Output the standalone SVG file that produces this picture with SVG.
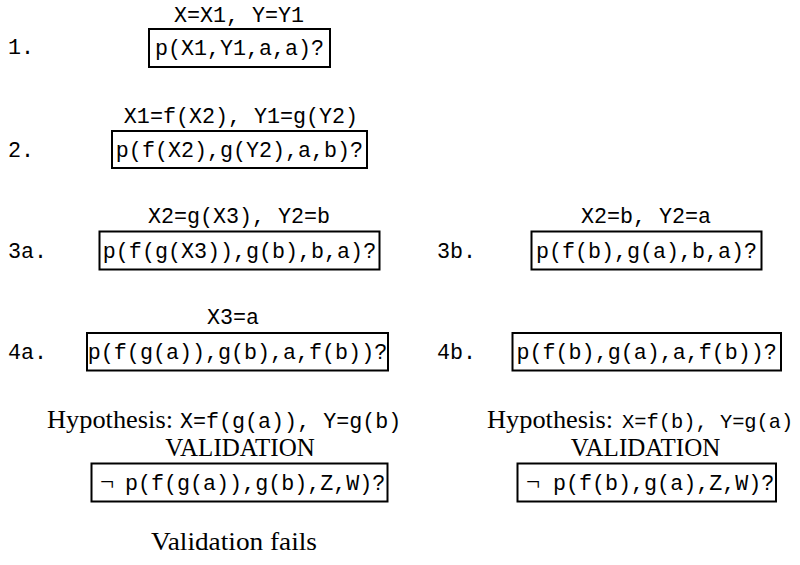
<svg xmlns="http://www.w3.org/2000/svg" width="800" height="565" viewBox="0 0 800 565">
<style>
  .box { fill: none; stroke: #000; stroke-width: 2; }
  .tt { font-family: "Liberation Mono", "DejaVu Sans Mono", monospace; font-size: 21.7px; fill: #000; }
  .rm { font-family: "Liberation Serif", "DejaVu Serif", serif; font-size: 25px; fill: #000; }
  .c { text-anchor: middle; }
</style>
<rect width="800" height="565" fill="#fff"/>

<g id="node-1">
  <text class="tt" x="8" y="54">1.</text>
  <text class="tt c" x="239" y="21.5">X=X1, Y=Y1</text>
  <rect class="box" x="149" y="29" width="181" height="38"/>
  <text class="tt c" x="239.5" y="54.5">p(X1,Y1,a,a)?</text>
</g>

<g id="node-2">
  <text class="tt" x="8" y="157">2.</text>
  <text class="tt c" x="241" y="123">X1=f(X2), Y1=g(Y2)</text>
  <rect class="box" x="112" y="131" width="255" height="37"/>
  <text class="tt c" x="239.5" y="157">p(f(X2),g(Y2),a,b)?</text>
</g>

<g id="node-3a">
  <text class="tt" x="8" y="258">3a.</text>
  <text class="tt c" x="239" y="223">X2=g(X3), Y2=b</text>
  <rect class="box" x="99.5" y="231.5" width="280" height="38"/>
  <text class="tt c" x="239.5" y="258">p(f(g(X3)),g(b),b,a)?</text>
</g>

<g id="node-3b">
  <text class="tt" x="437" y="258">3b.</text>
  <text class="tt c" x="646" y="223">X2=b, Y2=a</text>
  <rect class="box" x="531.5" y="231.5" width="230" height="38"/>
  <text class="tt c" x="646.5" y="258">p(f(b),g(a),b,a)?</text>
</g>

<g id="node-4a">
  <text class="tt" x="8" y="359">4a.</text>
  <text class="tt c" x="233" y="324">X3=a</text>
  <rect class="box" x="87" y="333" width="301" height="37.5"/>
  <text class="tt c" x="237.5" y="359">p(f(g(a)),g(b),a,f(b))?</text>
</g>

<g id="node-4b">
  <text class="tt" x="437" y="359">4b.</text>
  <rect class="box" x="512.5" y="333" width="268.5" height="37.5"/>
  <text class="tt c" x="646.7" y="359">p(f(b),g(a),a,f(b))?</text>
</g>

<g id="node-validation-a">
  <text class="rm" x="47" y="428" textLength="126" lengthAdjust="spacingAndGlyphs">Hypothesis:</text>
  <text class="tt" x="180" y="428">X=f(g(a)), Y=g(b)</text>
  <text class="rm c" x="240" y="456">VALIDATION</text>
  <rect class="box" x="91.5" y="463.5" width="296" height="38"/>
  <text class="rm" x="100" y="490">¬</text>
  <text class="tt" x="125" y="490">p(f(g(a)),g(b),Z,W)?</text>
</g>

<g id="node-validation-b">
  <text class="rm" x="487" y="428" textLength="126" lengthAdjust="spacingAndGlyphs">Hypothesis:</text>
  <text class="tt" x="622" y="428" style="font-size:20.4px">X=f(b), Y=g(a)</text>
  <text class="rm c" x="645.5" y="456">VALIDATION</text>
  <rect class="box" x="517.5" y="463.5" width="258.5" height="38"/>
  <text class="rm" x="526" y="490">¬</text>
  <text class="tt" x="553" y="490">p(f(b),g(a),Z,W)?</text>
</g>

<g id="node-fails">
  <text class="rm" x="151" y="550" textLength="166" lengthAdjust="spacingAndGlyphs">Validation fails</text>
</g>
</svg>
